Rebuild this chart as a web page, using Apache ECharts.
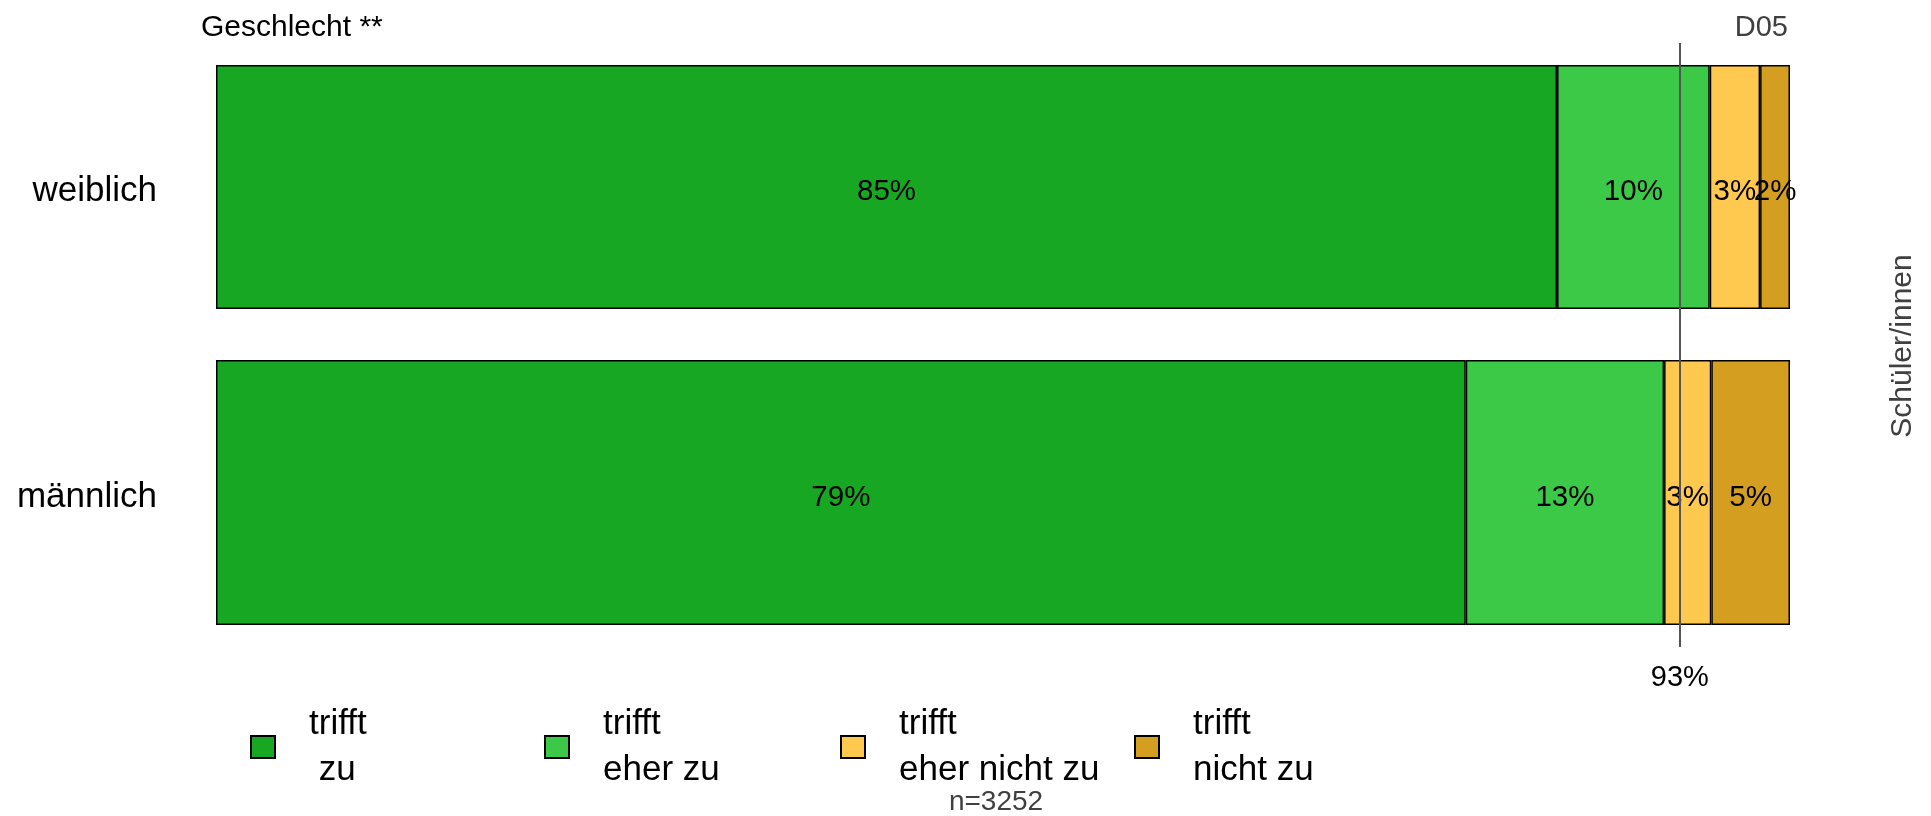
<!DOCTYPE html>
<html>
<head>
<meta charset="utf-8">
<script src="https://cdn.jsdelivr.net/npm/echarts@6/dist/echarts.min.js"></script>
<style>
html,body{margin:0;padding:0;background:#fff;}
#chart{width:1931px;height:816px;}
</style>
</head>
<body>
<div id="chart"></div>
<script>
// ---- data ----
const categories = ['weiblich', 'männlich'];
const seriesNames = ['trifft zu', 'trifft eher zu', 'trifft eher nicht zu', 'trifft nicht zu'];
const legendLabels = ['trifft\n zu', 'trifft\neher zu', 'trifft\neher nicht zu', 'trifft\nnicht zu'];
const weiblich = [85.2, 9.7, 3.2, 1.9];
const maennlich = [79.4, 12.6, 3.0, 5.0];
const referenceValue = 93;
const sampleText = 'n=3252';

// ---- styling ----
const colors = ['#17A723', '#3DC948', '#FFC84E', '#D49E21'];
const FONT = '"Liberation Sans", Arial, Helvetica, sans-serif';
const rows = [weiblich, maennlich];
const gridLeft = 216, gridRight = 141;
const rowGrids = [
  {left: gridLeft, right: gridRight, top: 65, height: 244},
  {left: gridLeft, right: gridRight, top: 360, height: 265}
];

const chart = echarts.init(document.getElementById('chart'), null, {renderer: 'canvas'});

const grid = rowGrids.concat([{left: gridLeft, right: gridRight, top: 43, height: 604}]);
const xAxis = grid.map((g, i) => ({type: 'value', gridIndex: i, min: 0, max: 100, show: false}));
const yAxis = rowGrids.map((g, i) => ({
  type: 'category', gridIndex: i, data: [categories[i]],
  axisLine: {show: false}, axisTick: {show: false}, splitLine: {show: false},
  axisLabel: {
    margin: 59,
    formatter: v => '{a|' + v + '}',
    rich: {a: {fontSize: 35, color: '#000', fontFamily: FONT, padding: [9, 0, 0, 0]}}
  }
}));
yAxis.push({type: 'value', gridIndex: 2, min: 0, max: 1, show: false});

const series = [];
rows.forEach((row, r) => {
  row.forEach((v, k) => {
    series.push({
      type: 'bar', name: seriesNames[k], xAxisIndex: r, yAxisIndex: r,
      stack: 'row' + r, data: [v], barWidth: '100%',
      itemStyle: {color: colors[k], borderColor: '#000', borderWidth: 1.5},
      label: {show: true, position: 'inside', fontSize: 29.5, color: '#000', fontFamily: FONT,
        offset: [0, 5], formatter: p => Math.round(p.value) + '%'},
      emphasis: {disabled: true}, animation: false
    });
  });
});
series.push({
  type: 'line', xAxisIndex: 2, yAxisIndex: 2, data: [], z: 10, animation: false,
  markLine: {
    silent: true, symbol: ['none', 'none'], animation: false,
    lineStyle: {color: '#555', width: 2, type: 'solid'},
    label: {show: true, position: 'start', formatter: referenceValue + '%', fontSize: 29,
      color: '#000', fontFamily: FONT, distance: 16},
    data: [{xAxis: referenceValue}]
  }
});

const legendLefts = [250, 544, 840, 1134];
const legend = seriesNames.map((n, i) => ({
  data: [n], left: legendLefts[i], top: 701, orient: 'horizontal', padding: 0,
  itemWidth: 24, itemHeight: 22, selectedMode: false,
  icon: 'rect',
  formatter: () => legendLabels[i],
  textStyle: {fontSize: 35, color: '#000', fontFamily: FONT, lineHeight: 46, padding: [0, 0, 0, 29]}
}));

chart.setOption({
  backgroundColor: '#fff',
  animation: false,
  title: [
    {text: 'Geschlecht **', left: 196, top: 8, textStyle: {fontSize: 30, fontWeight: 'normal', color: '#000', fontFamily: FONT}},
    {text: 'D05', right: 138, top: 8, textStyle: {fontSize: 29, fontWeight: 'normal', color: '#404040', fontFamily: FONT}}
  ],
  grid, xAxis, yAxis, series, legend,
  graphic: [
    {type: 'text', x: 1903, y: 346, rotation: Math.PI / 2,
      style: {text: 'Schüler/innen', fontSize: 30, fill: '#404040', fontFamily: FONT, textAlign: 'center', textVerticalAlign: 'middle'}},
    {type: 'text', x: 996, y: 802,
      style: {text: sampleText, fontSize: 28, fill: '#404040', fontFamily: FONT, textAlign: 'center', textVerticalAlign: 'middle'}}
  ]
});
</script>
</body>
</html>
